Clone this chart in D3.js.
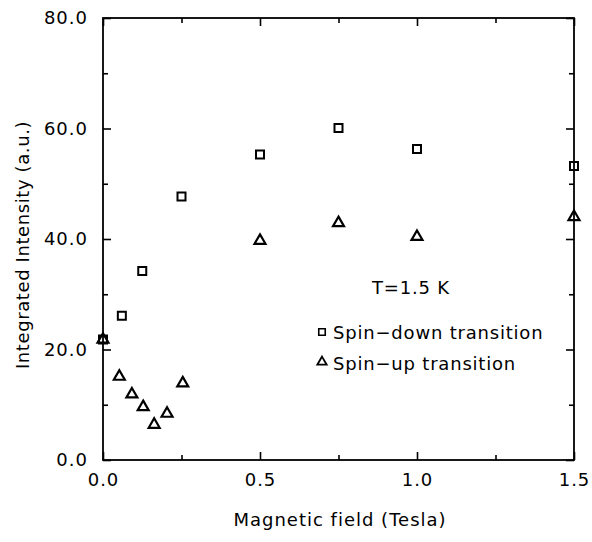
<!DOCTYPE html>
<html>
<head>
<meta charset="utf-8">
<script src="https://cdn.jsdelivr.net/npm/d3@7"></script>
<style>
  html, body { margin: 0; padding: 0; background: #fff; }
  svg { display: block; }
  text { font-family: "DejaVu Sans", sans-serif; fill: #000; }
</style>
</head>
<body>
<svg id="chart" width="592" height="542"></svg>
<script>
// Data
const downField = [0.0, 0.06, 0.125, 0.25, 0.5, 0.75, 1.0, 1.5];
const downIntensity = [21.8, 26.1, 34.2, 47.7, 55.3, 60.1, 56.3, 53.2];
const upField = [0.0, 0.052, 0.092, 0.128, 0.163, 0.204, 0.254, 0.5, 0.75, 1.0, 1.5];
const upIntensity = [21.8, 15.1, 11.9, 9.6, 6.4, 8.4, 13.9, 39.7, 42.9, 40.4, 44.0];
const xTickValues = [0.0, 0.5, 1.0, 1.5];
const xTickLabels = ["0.0", "0.5", "1.0", "1.5"];
const yTickValues = [0, 20, 40, 60, 80];
const yTickLabels = ["0.0", "20.0", "40.0", "60.0", "80.0"];
const xMinorTicks = [0.25, 0.75, 1.25];
const yMinorTicks = [10, 30, 50, 70];
const legendLabels = ["Spin\u2212down transition", "Spin\u2212up transition"];
const annotation = "T=1.5 K";
const xTitle = "Magnetic field (Tesla)";
const yTitle = "Integrated Intensity (a.u.)";

const svg = d3.select("#chart");
const L = 103, R = 574, T = 18, B = 460;
const x = d3.scaleLinear().domain([0, 1.5]).range([L, R]);
const y = d3.scaleLinear().domain([0, 80]).range([B, T]);

// frame
svg.append("rect").attr("x", L).attr("y", T).attr("width", R - L).attr("height", B - T)
  .attr("fill", "none").attr("stroke", "#000").attr("stroke-width", 1.8);

function styleAxis(g) {
  g.select(".domain").remove();
  g.selectAll(".tick line").attr("stroke", "#000").attr("stroke-width", 1.6);
}
const major = 8, minor = 5;
// bottom
svg.append("g").attr("transform", `translate(0,${B})`)
  .call(d3.axisBottom(x).tickValues(xTickValues).tickSize(-major).tickPadding(13)
    .tickFormat((d, i) => xTickLabels[i]))
  .call(styleAxis)
  .call(g => g.selectAll("text").attr("font-size", 18).attr("letter-spacing", 1).attr("dy", "0.71em"));
svg.append("g").attr("transform", `translate(0,${B})`)
  .call(d3.axisBottom(x).tickValues(xMinorTicks).tickSize(-minor).tickFormat(""))
  .call(styleAxis);
// top
svg.append("g").attr("transform", `translate(0,${T})`)
  .call(d3.axisTop(x).tickValues(xTickValues).tickSize(-major).tickFormat(""))
  .call(styleAxis);
svg.append("g").attr("transform", `translate(0,${T})`)
  .call(d3.axisTop(x).tickValues(xMinorTicks).tickSize(-minor).tickFormat(""))
  .call(styleAxis);
// left
svg.append("g").attr("transform", `translate(${L},0)`)
  .call(d3.axisLeft(y).tickValues(yTickValues).tickSize(-major).tickPadding(15)
    .tickFormat((d, i) => yTickLabels[i]))
  .call(styleAxis)
  .call(g => g.selectAll("text").attr("font-size", 18).attr("letter-spacing", 1));
svg.append("g").attr("transform", `translate(${L},0)`)
  .call(d3.axisLeft(y).tickValues(yMinorTicks).tickSize(-minor).tickFormat(""))
  .call(styleAxis);
// right
svg.append("g").attr("transform", `translate(${R},0)`)
  .call(d3.axisRight(y).tickValues(yTickValues).tickSize(-major).tickFormat(""))
  .call(styleAxis);
svg.append("g").attr("transform", `translate(${R},0)`)
  .call(d3.axisRight(y).tickValues(yMinorTicks).tickSize(-minor).tickFormat(""))
  .call(styleAxis);

// titles
svg.append("text").attr("x", 340).attr("y", 526).attr("text-anchor", "middle")
  .attr("font-size", 18).attr("letter-spacing", 1).text(xTitle);
svg.append("text").attr("transform", "translate(29,245) rotate(-90)").attr("text-anchor", "middle")
  .attr("font-size", 18).attr("letter-spacing", 0.6).text(yTitle);

// markers
const sq = d3.symbol().type(d3.symbolSquare).size(64);
const tri = d3.symbol().type(d3.symbolTriangle).size(52);
const downData = downField.map((f, i) => ({ f, v: downIntensity[i] }));
const upData = upField.map((f, i) => ({ f, v: upIntensity[i] }));
svg.append("g").selectAll("path").data(downData).join("path")
  .attr("d", sq).attr("transform", d => `translate(${x(d.f)},${y(d.v)})`)
  .attr("fill", "none").attr("stroke", "#000").attr("stroke-width", 2);
svg.append("g").selectAll("path").data(upData).join("path")
  .attr("d", tri).attr("transform", d => `translate(${x(d.f)},${y(d.v)})`)
  .attr("fill", "none").attr("stroke", "#000").attr("stroke-width", 2.2);

// legend
svg.append("text").attr("x", 372).attr("y", 294).attr("font-size", 18).attr("letter-spacing", 0.8).text(annotation);
svg.append("path").attr("d", sq.size(42)()).attr("transform", "translate(322,332)")
  .attr("fill", "none").attr("stroke", "#000").attr("stroke-width", 1.6);
svg.append("text").attr("x", 333).attr("y", 339).attr("font-size", 18).attr("letter-spacing", 0.8).text(legendLabels[0]);
svg.append("path").attr("d", tri.size(38)()).attr("transform", "translate(322,362)")
  .attr("fill", "none").attr("stroke", "#000").attr("stroke-width", 1.8);
svg.append("text").attr("x", 333).attr("y", 370).attr("font-size", 18).attr("letter-spacing", 0.8).text(legendLabels[1]);
</script>
</body>
</html>
